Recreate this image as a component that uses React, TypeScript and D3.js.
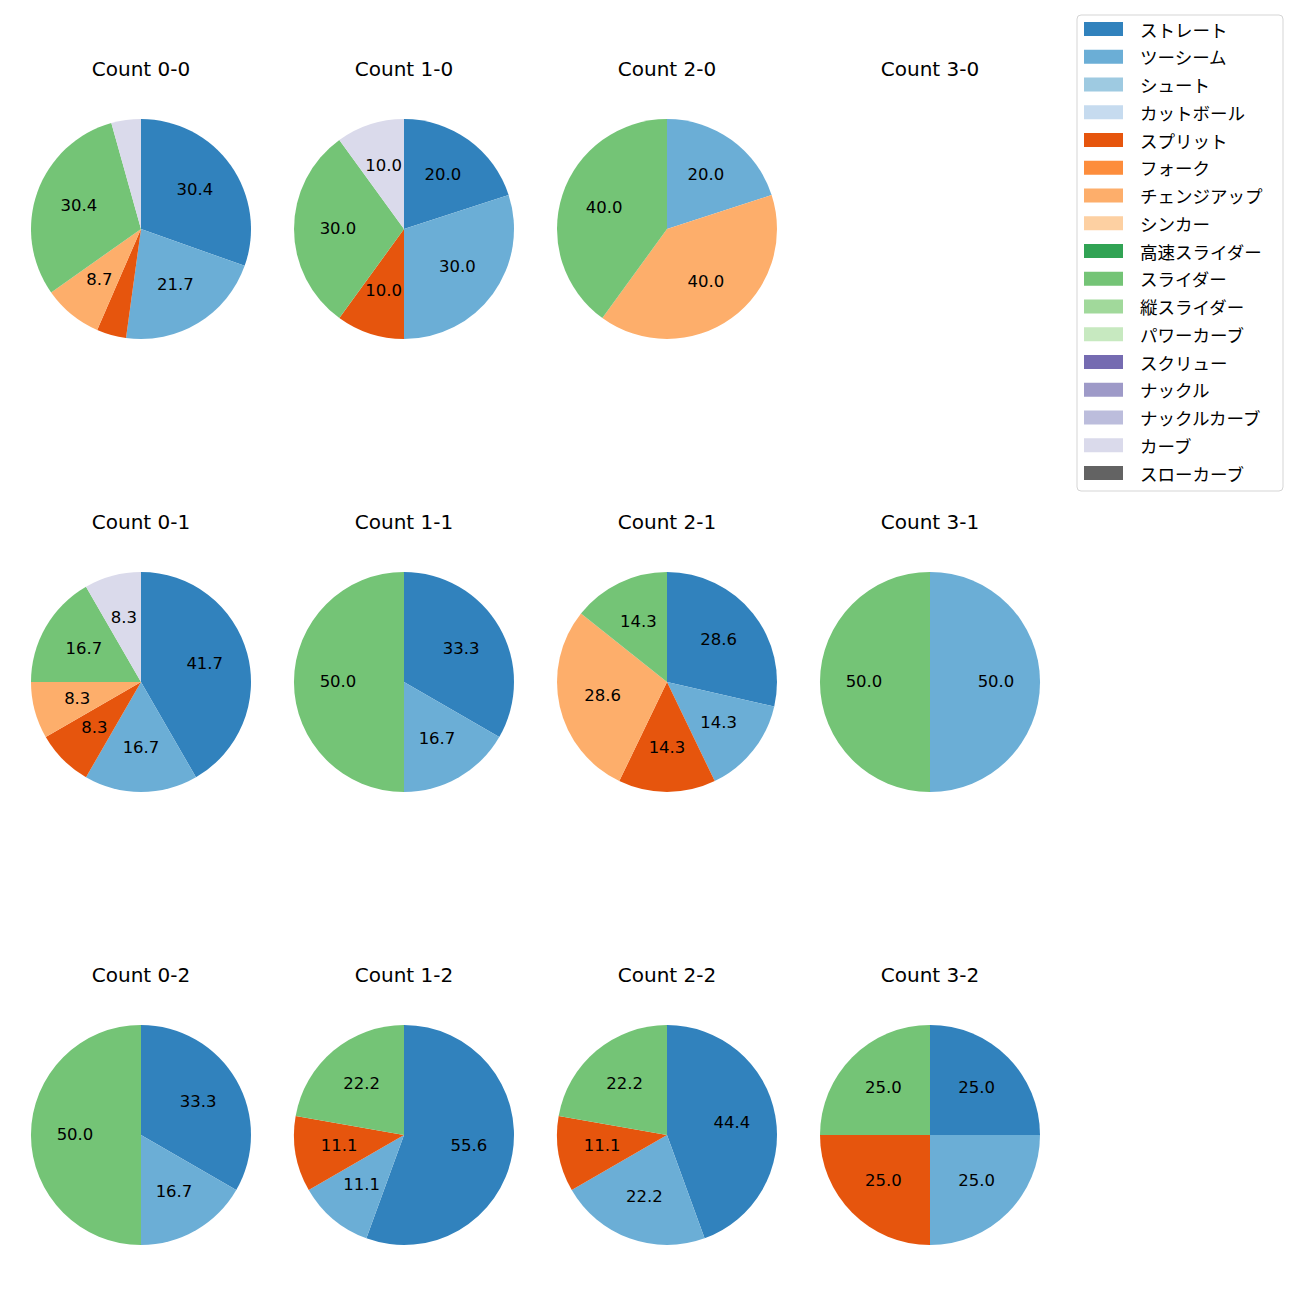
import React from "react";
import * as d3 from "d3";

const pitchTypes = [
  "ストレート", "ツーシーム", "シュート", "カットボール", "スプリット", "フォーク",
  "チェンジアップ", "シンカー", "高速スライダー", "スライダー", "縦スライダー",
  "パワーカーブ", "スクリュー", "ナックル", "ナックルカーブ", "カーブ", "スローカーブ",
];
const pitchColors = [
  "#3182bd", "#6baed6", "#9ecae1", "#c6dbef", "#e6550d", "#fd8d3c",
  "#fdae6b", "#fdd0a2", "#31a354", "#74c476", "#a1d99b", "#c7e9c0",
  "#756bb1", "#9e9ac8", "#bcbddc", "#dadaeb", "#636363",
];

const counts = ["0-0", "1-0", "2-0", "3-0", "0-1", "1-1", "2-1", "3-1", "0-2", "1-2", "2-2", "3-2"];
// pitch counts per pitch type (same order as pitchTypes)
const pitches00 = [7, 5, 0, 0, 1, 0, 2, 0, 0, 7, 0, 0, 0, 0, 0, 1, 0];
const pitches10 = [2, 3, 0, 0, 1, 0, 0, 0, 0, 3, 0, 0, 0, 0, 0, 1, 0];
const pitches20 = [0, 1, 0, 0, 0, 0, 2, 0, 0, 2, 0, 0, 0, 0, 0, 0, 0];
const pitches30 = [0, 0, 0, 0, 0, 0, 0, 0, 0, 0, 0, 0, 0, 0, 0, 0, 0];
const pitches01 = [5, 2, 0, 0, 1, 0, 1, 0, 0, 2, 0, 0, 0, 0, 0, 1, 0];
const pitches11 = [2, 1, 0, 0, 0, 0, 0, 0, 0, 3, 0, 0, 0, 0, 0, 0, 0];
const pitches21 = [2, 1, 0, 0, 1, 0, 2, 0, 0, 1, 0, 0, 0, 0, 0, 0, 0];
const pitches31 = [0, 1, 0, 0, 0, 0, 0, 0, 0, 1, 0, 0, 0, 0, 0, 0, 0];
const pitches02 = [2, 1, 0, 0, 0, 0, 0, 0, 0, 3, 0, 0, 0, 0, 0, 0, 0];
const pitches12 = [5, 1, 0, 0, 1, 0, 0, 0, 0, 2, 0, 0, 0, 0, 0, 0, 0];
const pitches22 = [4, 2, 0, 0, 1, 0, 0, 0, 0, 2, 0, 0, 0, 0, 0, 0, 0];
const pitches32 = [1, 1, 0, 0, 1, 0, 0, 0, 0, 1, 0, 0, 0, 0, 0, 0, 0];
const pitchesByCount = [pitches00, pitches10, pitches20, pitches30, pitches01, pitches11, pitches21, pitches31, pitches02, pitches12, pitches22, pitches32];

const LATIN = "'DejaVu Sans', 'Noto Sans CJK JP', sans-serif";
const CJK = "'Noto Sans CJK JP', 'DejaVu Sans', sans-serif";

type Item = { v: number; i: number };

function Pie({ title, values, cx, cy, r }: { title: string; values: number[]; cx: number; cy: number; r: number }) {
  const items: Item[] = values.map((v, i) => ({ v, i })).filter((d) => d.v > 0);
  const pie = d3.pie<Item>().value((d) => d.v).sort(null).startAngle(0).endAngle(2 * Math.PI);
  const arcs = pie(items);
  const arc = d3.arc<d3.PieArcDatum<Item>>().innerRadius(0).outerRadius(r);
  const total = d3.sum(items, (d) => d.v);
  return (
    <g>
      <text x={cx} y={cy - 153} textAnchor="middle" fontSize={20} fontFamily={LATIN} fill="#000">{title}</text>
      <g transform={`translate(${cx},${cy})`}>
        {arcs.map((a, k) => (
          <path key={k} d={arc(a) || ""} fill={pitchColors[a.data.i]} />
        ))}
        {arcs.map((a, k) => {
          const pct = (a.data.v / total) * 100;
          if (pct < 5) return null;
          const mid = (a.startAngle + a.endAngle) / 2;
          const x = Math.sin(mid) * r * 0.6;
          const y = -Math.cos(mid) * r * 0.6;
          return (
            <text key={"t" + k} x={x} y={y - 1} textAnchor="middle" dominantBaseline="central" fontSize={16.5} fontFamily={LATIN} fill="#000">
              {pct.toFixed(1)}
            </text>
          );
        })}
      </g>
    </g>
  );
}

export default function App() {
  const colX = [141, 404, 667, 930];
  const rowY = [229, 682, 1135];
  const r = 110;
  const legX = 1077, legY = 15, legW = 206, legH = 476, step = 27.75;
  return (
    <svg width={1300} height={1300} style={{ display: "block", margin: "-8px" }} viewBox="0 0 1300 1300">
      <rect x={0} y={0} width={1300} height={1300} fill="#fff" />
      {counts.map((c, k) => (
        <Pie key={c} title={`Count ${c}`} values={pitchesByCount[k]} cx={colX[k % 4]} cy={rowY[Math.floor(k / 4)]} r={r} />
      ))}
      <rect x={legX} y={legY} width={legW} height={legH} rx={4} ry={4} fill="#fff" stroke="#d5d5d5" strokeWidth={1} />
      {pitchTypes.map((p, i) => {
        const y = 29 + i * step;
        return (
          <g key={p}>
            <rect x={1084} y={y - 7} width={39} height={14} fill={pitchColors[i]} />
            <text x={1140} y={y} dominantBaseline="central" fontSize={17.5} fontFamily={CJK} fill="#000">{p}</text>
          </g>
        );
      })}
    </svg>
  );
}
